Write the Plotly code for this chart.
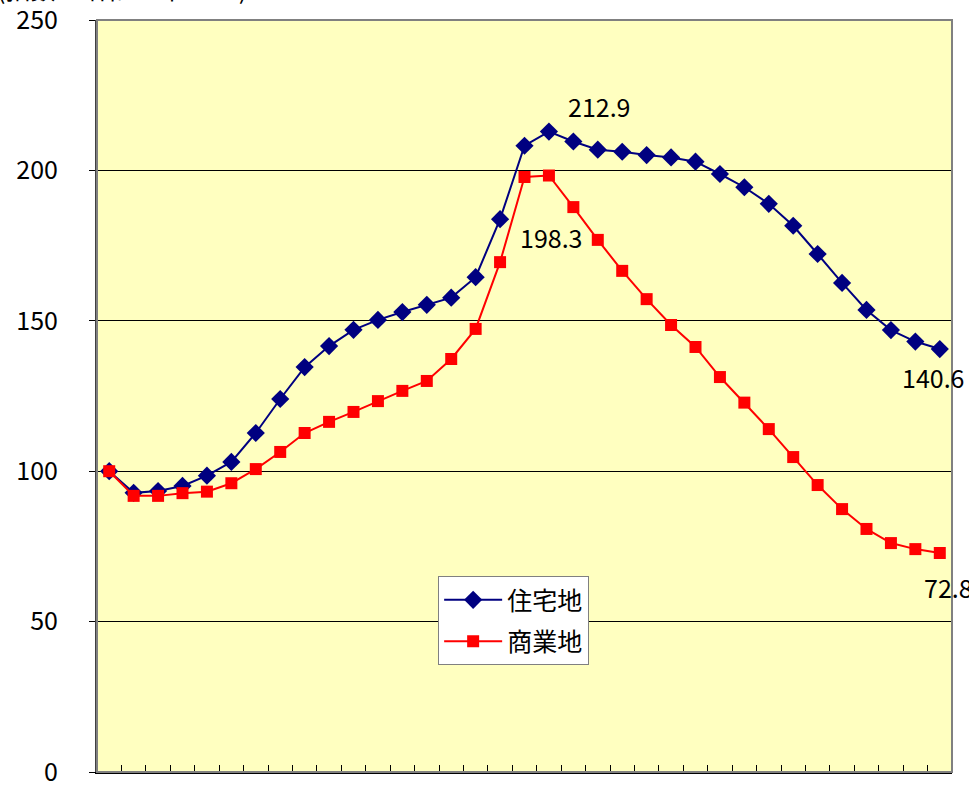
import plotly.graph_objects as go

years = list(range(1975, 2010))
residential = [100, 92.8, 93.4, 95.1, 98.5, 103.1, 112.7, 124.0, 134.6, 141.6,
               147.0, 150.3, 152.9, 155.3, 157.7, 164.5, 183.8, 208.2, 212.9, 209.6,
               206.9, 206.2, 205.1, 204.3, 202.9, 198.8, 194.4, 188.9, 181.6, 172.2,
               162.6, 153.6, 146.9, 143.1, 140.6]
commercial = [100, 91.8, 91.8, 92.7, 93.2, 96.0, 100.7, 106.4, 112.7, 116.4,
              119.7, 123.3, 126.7, 130.0, 137.3, 147.3, 169.5, 197.8, 198.3, 187.8,
              176.9, 166.6, 157.2, 148.6, 141.3, 131.3, 122.8, 114.0, 104.7, 95.4,
              87.4, 80.8, 76.1, 74.1, 72.8]
series_names = ["住宅地", "商業地"]
y_ticks = [0, 50, 100, 150, 200, 250]
title_text = "(指数　昭和50年=100)"

FONT = "Noto Sans CJK JP"

fig = go.Figure()
fig.add_trace(go.Scatter(
    x=years, y=residential, name=series_names[0], mode="lines+markers",
    legendgroup="a",
    line=dict(color="#000080", width=2),
    marker=dict(symbol="diamond", size=14, color="#000080"),
))
fig.add_trace(go.Scatter(
    x=years, y=commercial, name=series_names[1], mode="lines+markers",
    legendgroup="b",
    line=dict(color="#FF0000", width=2),
    marker=dict(symbol="square", size=12, color="#FF0000"),
))

# data labels
peak_i = residential.index(max(residential))
cpeak_i = commercial.index(max(commercial))
anns = [
    dict(x=years[peak_i], y=residential[peak_i], text=f"{residential[peak_i]:.1f}",
         xshift=50, yshift=26, showarrow=False),
    dict(x=years[cpeak_i], y=commercial[cpeak_i], text=f"{commercial[cpeak_i]:.1f}",
         xshift=2, yshift=-61, showarrow=False),
    dict(x=years[-1], y=residential[-1], text=f"{residential[-1]:.1f}",
         xshift=-7, yshift=-28, showarrow=False),
    dict(x=years[-1], y=commercial[-1], text=f"{commercial[-1]:.1f}",
         xshift=-18, yshift=-34, showarrow=False, xanchor="left"),
]
for a in anns:
    a.update(xref="x", yref="y", font=dict(family=FONT, size=25, color="black"))
    fig.add_annotation(**a)

fig.add_annotation(x=0, xref="paper", y=1, yref="paper", xanchor="left", yanchor="bottom",
                   xshift=-102, yshift=12, text=title_text, showarrow=False,
                   font=dict(family=FONT, size=25, color="black"))

fig.add_shape(type="rect", xref="paper", yref="paper", x0=0, x1=1, y0=0, y1=1,
              line=dict(color="#808080", width=2), layer="above")

fig.update_layout(
    width=969, height=786,
    margin=dict(l=97, r=17, t=20, b=14, autoexpand=False),
    paper_bgcolor="white", plot_bgcolor="#FFFFC0",
    font=dict(family=FONT, size=25, color="black"),
    showlegend=True,
    legend=dict(x=0.399, y=0.2606, xanchor="left", yanchor="top",
                bgcolor="white", bordercolor="#808080", borderwidth=1,
                font=dict(family=FONT, size=25, color="black"),
                tracegroupgap=6, itemwidth=58),
    xaxis=dict(range=[years[0] - 0.5, years[-1] + 0.5],
               tickvals=[y + 0.5 for y in years[:-1]],
               ticks="inside", ticklen=7, tickcolor="black", tickwidth=1,
               showticklabels=False, showgrid=False, zeroline=False,
               showline=True, linecolor="black", linewidth=2, automargin=False),
    yaxis=dict(range=[0, 250], tickvals=y_ticks, ticks="outside", ticklen=6,
               tickcolor="black", showgrid=True, gridcolor="black", gridwidth=1,
               zeroline=False, showline=True, linecolor="#404040", linewidth=2,
               ticklabelstandoff=26, ticklabeloverflow="allow", automargin=False,
               tickfont=dict(family=FONT, size=25)),
)

fig.write_html("out.html")
